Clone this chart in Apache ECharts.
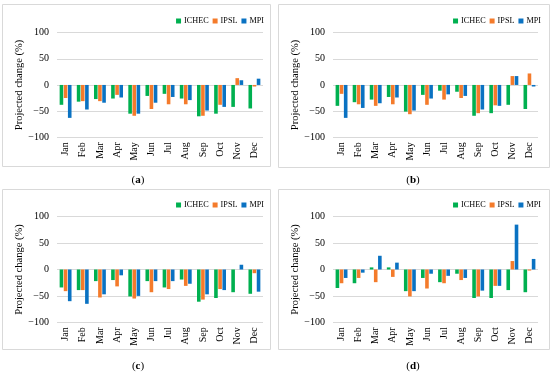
<!DOCTYPE html>
<html>
<head>
<meta charset="utf-8">
<script src="https://cdn.jsdelivr.net/npm/echarts@6/dist/echarts.min.js"></script>
<style>html,body{margin:0;padding:0;background:#fff}#c{width:550px;height:372px}</style>
</head>
<body>
<div id="c"></div>
<script>
const months = ['Jan','Feb','Mar','Apr','May','Jun','Jul','Aug','Sep','Oct','Nov','Dec'];
const seriesNames = ['ICHEC','IPSL','MPI'];
const yTicks = [-100, -50, 0, 50, 100];
const panelLabels = ['a','b','c','d'];

const aICHEC = [-38,-32,-27,-26,-55,-21,-17,-26,-60,-55,-42,-45];
const aIPSL  = [-25,-31,-31,-19,-59,-46,-37,-37,-59,-38,13,-3];
const aMPI   = [-63,-47,-34,-24,-55,-34,-23,-29,-49,-42,9,12];

const bICHEC = [-40,-33,-28,-23,-51,-19,-11,-13,-59,-54,-38,-46];
const bIPSL  = [-17,-37,-40,-37,-56,-38,-28,-25,-54,-39,17,22];
const bMPI   = [-63,-44,-35,-24,-49,-26,-18,-21,-47,-40,17,-3];

const cICHEC = [-34,-39,-22,-20,-51,-22,-34,-19,-61,-54,-43,-46];
const cIPSL  = [-41,-39,-53,-32,-55,-43,-37,-31,-57,-37,0,-7];
const cMPI   = [-60,-65,-47,-11,-50,-22,-22,-27,-47,-39,9,-42];

const dICHEC = [-35,-26,4,4,-41,-16,-24,-8,-54,-54,-39,-43];
const dIPSL  = [-26,-16,-24,-14,-51,-36,-26,-20,-51,-31,16,-2];
const dMPI   = [-16,-6,26,13,-41,-8,-12,-16,-40,-31,85,20];

const panelData = [[aICHEC,aIPSL,aMPI],[bICHEC,bIPSL,bMPI],[cICHEC,cIPSL,cMPI],[dICHEC,dIPSL,dMPI]];
const colors = ['#00B050','#F47B2B','#0A72C2'];
const FONT = '"Liberation Serif","Times New Roman",serif';

const grids = [
  {left:57, top:32.7, width:206, height:104.5},
  {left:333, top:32.7, width:205, height:104.5},
  {left:57, top:216.7, width:206, height:105.6},
  {left:333, top:216.7, width:205, height:105.6}
];
const boxes = [[2,4,268,162],[278,4,271,163],[2,189,268,160],[278,189,271,160]];
const caps = [[138,180],[413,180],[138,366],[413,366]];
const legendPos = [[286,17],[9,17],[286,201],[9,201]];

const xAxes = [], yAxes = [], series = [], legends = [], graphics = [];
grids.forEach((g,i)=>{
  xAxes.push({type:'category', gridIndex:i, data:months,
    axisLine:{show:false}, axisTick:{show:false},
    axisLabel:{rotate:90, fontFamily:FONT, fontSize:10, color:'#000', margin:5}});
  yAxes.push({type:'value', gridIndex:i, min:yTicks[0], max:yTicks[yTicks.length-1], interval:50,
    name:'Projected change (%)', nameLocation:'middle', nameGap:31,
    nameTextStyle:{fontFamily:FONT, fontSize:10.5, color:'#000'},
    axisLine:{show:false}, axisTick:{show:false},
    axisLabel:{fontFamily:FONT, fontSize:10, color:'#000', margin:8,
      formatter:v=>String(v).replace('-','\u2212')},
    splitLine:{lineStyle:{color:'#d9d9d9', width:1}}});
  seriesNames.forEach((n,k)=>{
    series.push({type:'bar', name:n, xAxisIndex:i, yAxisIndex:i, data:panelData[i][k],
      barWidth:3.6, barGap:'15%', itemStyle:{color:colors[k]}, silent:true, animation:false});
  });
  legends.push({data:seriesNames, right:legendPos[i][0], top:legendPos[i][1], orient:'horizontal',
    itemWidth:5, itemHeight:5, padding:0,
    itemGap:4, icon:'rect', textStyle:{fontFamily:FONT, fontSize:8.2, color:'#000', padding:[0,0,0,-2]}});
  const b = boxes[i];
  graphics.push({type:'rect', shape:{x:b[0]+0.5,y:b[1]+0.5,width:b[2],height:b[3]},
    style:{fill:'none', stroke:'#d9d9d9', lineWidth:1}, silent:true});
  graphics.push({type:'text', x:caps[i][0], y:caps[i][1],
    style:{text:'({b|'+panelLabels[i]+'})', rich:{b:{fontWeight:'bold', fontFamily:FONT, fontSize:11, fill:'#000'}},
      font:'11px '+FONT, fill:'#000', textAlign:'center', textVerticalAlign:'middle'}, silent:true});
});

const chart = echarts.init(document.getElementById('c'), null, {renderer:'canvas'});
chart.setOption({
  animation:false,
  grid: grids,
  xAxis: xAxes,
  yAxis: yAxes,
  series: series,
  legend: legends,
  graphic: graphics
});
</script>
</body>
</html>
